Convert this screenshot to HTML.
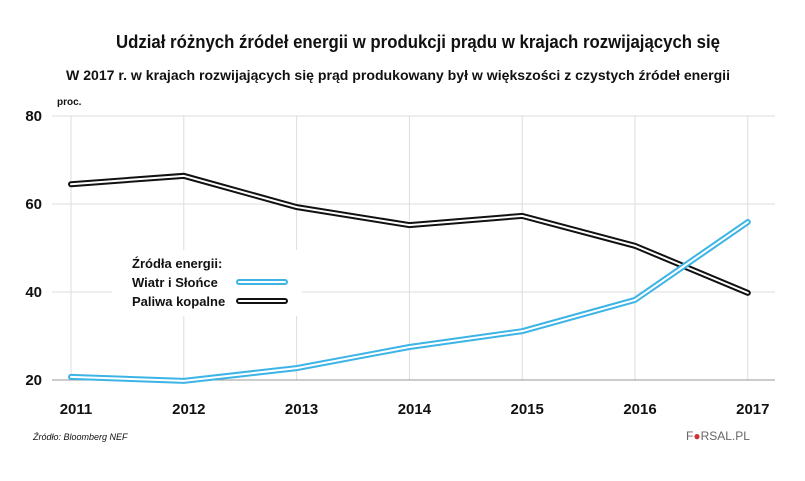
<!DOCTYPE html>
<html><head><meta charset="utf-8"><style>
body{margin:0;background:#fff;font-family:"Liberation Sans",sans-serif}
svg text{font-family:"Liberation Sans",sans-serif}
</style></head><body>
<svg width="805" height="476" viewBox="0 0 805 476">
<text x="116" y="48" textLength="604" lengthAdjust="spacingAndGlyphs" font-size="18" font-weight="bold" fill="#111">Udział różnych źródeł energii w produkcji prądu w krajach rozwijających się</text>
<text x="66" y="80" textLength="664" lengthAdjust="spacingAndGlyphs" font-size="14" font-weight="bold" fill="#111">W 2017 r. w krajach rozwijających się prąd produkowany był w większości z czystych źródeł energii</text>
<text x="57" y="105" font-size="10" font-weight="bold" fill="#111">proc.</text>
<g id="grid"></g>
<g id="marks"></g>
<g>
<rect x="112" y="250" width="190" height="66" fill="#fff"/>
<text x="132" y="268" font-size="13" font-weight="bold" fill="#111">Źródła energii:</text>
<text x="132" y="287" font-size="13" font-weight="bold" fill="#111">Wiatr i Słońce</text>
<text x="132" y="306" font-size="13" font-weight="bold" fill="#111">Paliwa kopalne</text>
<line x1="239" y1="282" x2="285" y2="282" stroke="#3cb4e5" stroke-width="6" stroke-linecap="round"/>
<line x1="239" y1="282" x2="285" y2="282" stroke="#fff" stroke-width="2" stroke-linecap="round"/>
<line x1="239" y1="301" x2="285" y2="301" stroke="#111" stroke-width="6" stroke-linecap="round"/>
<line x1="239" y1="301" x2="285" y2="301" stroke="#fff" stroke-width="2" stroke-linecap="round"/>
</g>
<text x="33" y="440" font-size="9" font-style="italic" fill="#111">Źródło:  Bloomberg NEF</text>
<text x="686" y="440" font-size="12" font-family="Liberation Serif" fill="#666">F<tspan fill="#c33">●</tspan>RSAL.PL</text>
</svg>
<script>
const years=["2011","2012","2013","2014","2015","2016","2017"];
const renewables=[20.7,19.8,22.7,27.5,31.1,38.2,55.9];
const fossil=[64.5,66.4,59.3,55.2,57.3,50.5,39.8];
const yTicks=[20,40,60,80];
const NS="http://www.w3.org/2000/svg";
const xS=i=>71+i*112.8;
const yS=v=>380-(v-20)*4.4;
const grid=document.getElementById('grid'),marks=document.getElementById('marks');
function mk(tag,attrs,parent){const e=document.createElementNS(NS,tag);for(const k in attrs)e.setAttribute(k,attrs[k]);parent.appendChild(e);return e;}
years.forEach((y,i)=>{
 const l=mk('line',{x1:xS(i),x2:xS(i),y1:yS(80),y2:yS(20),stroke:'#ddd','stroke-width':1},grid);
 
 
 const t=mk('text',{x:xS(i)+5,y:414,'text-anchor':'middle','font-size':15,'font-weight':'bold',fill:'#111'},grid);
 t.textContent=y;
 
 
});
yTicks.forEach(v=>{
 const l=mk('line',{x1:52,x2:775,y1:yS(v),y2:yS(v),stroke:v===20?'#999':'#ddd','stroke-width':1},grid);
 
 
 const t=mk('text',{x:42,y:yS(v)+5,'text-anchor':'end','font-size':15,'font-weight':'bold',fill:'#111'},grid);
 t.textContent=v;
 
 
});
function series(vals,color,name){
 const d=vals.map((v,i)=>(i?'L':'M')+xS(i)+','+yS(v)).join(' ');
 const a=mk('path',{d:d,fill:'none',stroke:color,'stroke-width':6,'stroke-linecap':'round','stroke-linejoin':'miter'},marks);
 
 
 mk('path',{d:d,fill:'none',stroke:'#fff','stroke-width':2,'stroke-linecap':'round'},marks);
}
series(fossil,'#111','line-fossil');
series(renewables,'#3cb4e5','line-renewables');
</script>
</body></html>
